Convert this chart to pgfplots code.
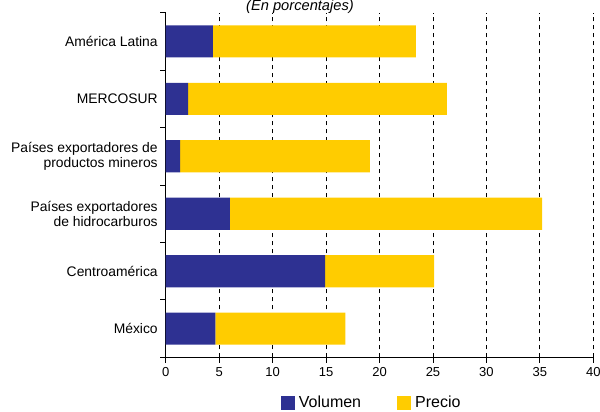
\documentclass[border=0pt]{standalone}
\usepackage{fontspec}
\setmainfont{Liberation Sans}
\usepackage{pgfplots}
\pgfplotsset{compat=1.18}
\usetikzlibrary{calc}
\definecolor{vol}{HTML}{2E3192}
\definecolor{pre}{HTML}{FFCC00}
\begin{document}
\begin{tikzpicture}
\begin{axis}[
  scale only axis,
  width=320.7pt, height=258.5pt,
  xbar stacked,
  bar width=0.56,
  xmin=0, xmax=40,
  ymin=-0.5, ymax=5.5,
  xtick={0,5,...,40},
  ytick={-0.5,0.5,...,5.5},
  yticklabels={},
  extra y ticks={0,1,2,3,4,5},
  extra y tick labels={México, Centroamérica, {Países exportadores\\de hidrocarburos}, {Países exportadores de\\productos mineros}, MERCOSUR, América Latina},
  extra y tick style={tick style={draw=none}, grid=none},
  axis x line*=bottom,
  axis y line*=left,
  axis line style={-, black, line width=0.8pt},
  major tick length=4pt,
  tick align=outside,
  tick style={draw=black, line width=0.6pt},
  xmajorgrids,
  major x grid style={black, dash pattern=on 3pt off 3pt, line width=0.6pt},
  /pgf/number format/assume math mode=true,
  xticklabel style={font=\fontsize{9.75}{11.5}\selectfont},
  yticklabel style={align=right, xshift=1.5pt, font=\fontsize{10.4}{11.5}\selectfont},
  legend columns=2,
  legend style={draw=none, at={(rel axis cs:0.484,-0.1326)}, anchor=center,
    font=\fontsize{12}{14}\selectfont,
    /tikz/every even column/.append style={column sep=24pt},
    /tikz/every odd column/.append style={},
    nodes={inner xsep=3pt}},
]
\addplot[fill=vol, draw=none, legend image code/.code={\fill[vol] (0pt,-5pt) rectangle (10.5pt,5pt);}] coordinates {(4.65,0) (14.9,1) (6.0,2) (1.35,3) (2.1,4) (4.4,5)};
\addplot[fill=pre, draw=none, legend image code/.code={\fill[pre] (0pt,-5pt) rectangle (10.5pt,5pt);}] coordinates {(12.15,0) (10.2,1) (29.2,2) (17.75,3) (24.2,4) (19.0,5)};
\legend{Volumen, Precio}
\coordinate (sw) at (rel axis cs:0,0);
\coordinate (ne) at (rel axis cs:1,1);
\end{axis}
\node[anchor=base, inner sep=0pt, font=\itshape\fontsize{11}{13}\selectfont] at ($(sw|-ne)+(100.7pt,1.5pt)$) {(En porcentajes)};
\pgfresetboundingbox
\path[use as bounding box] ($(sw)+(-124.3pt,-40.3pt)$) rectangle ($(ne)+(5pt,9.5pt)$);
\end{tikzpicture}
\end{document}
